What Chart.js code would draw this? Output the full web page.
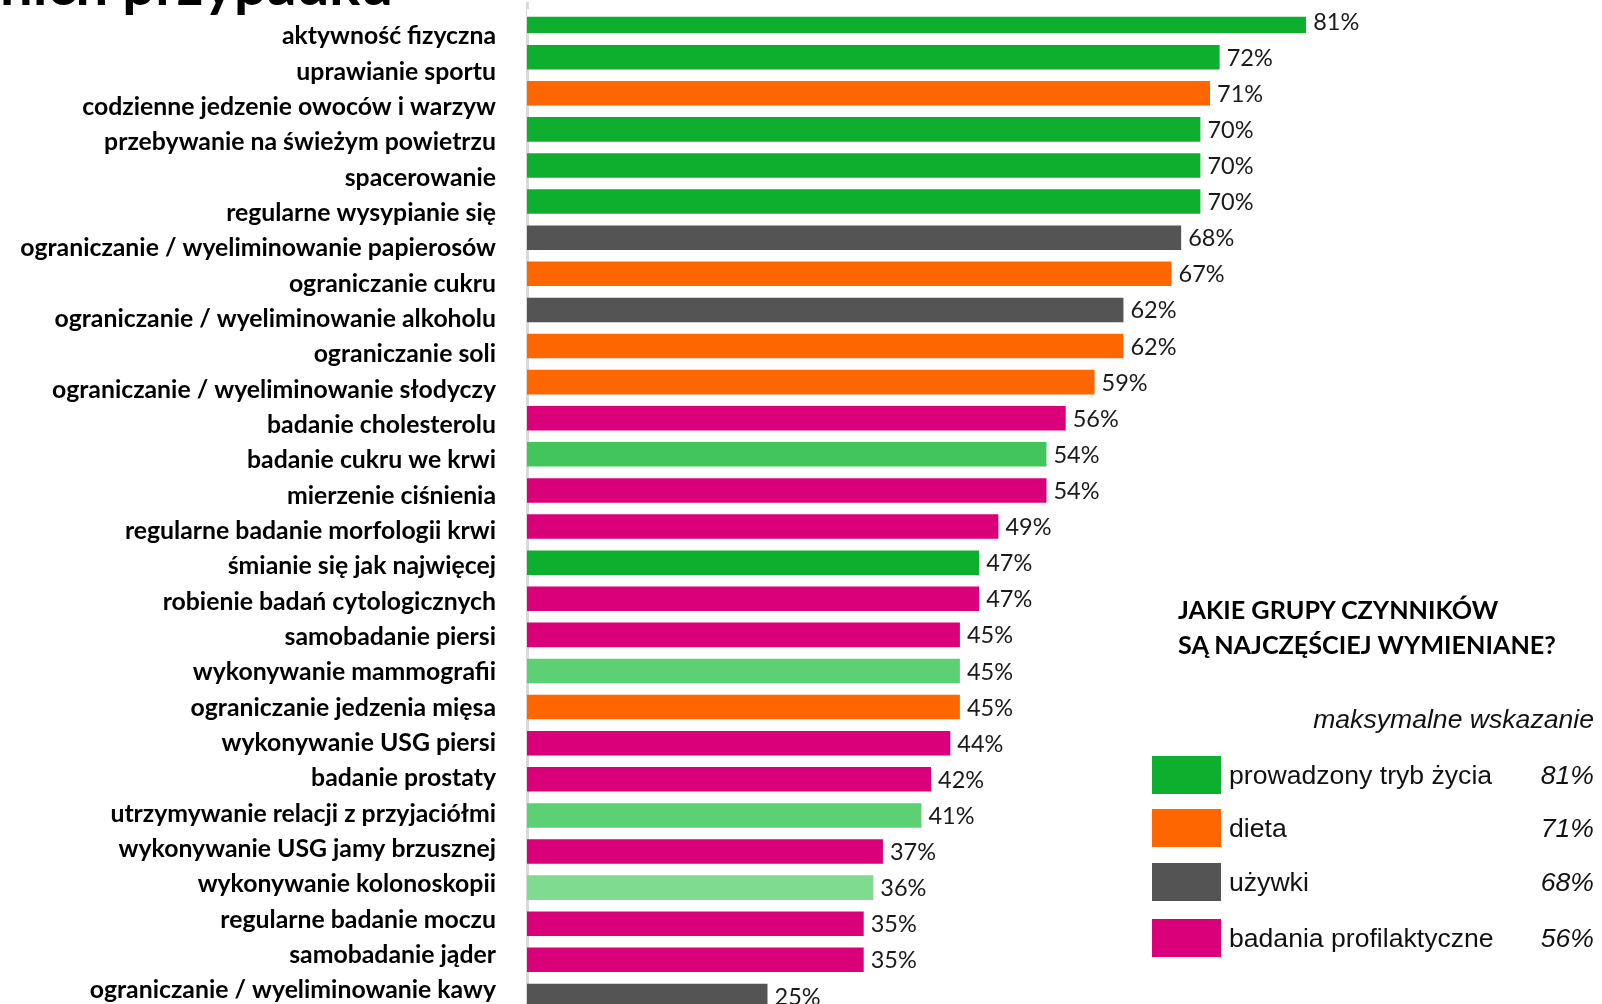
<!DOCTYPE html>
<html lang="pl">
<head>
<meta charset="utf-8">
<title>Czynniki</title>
<script src="https://cdn.jsdelivr.net/npm/chart.js@4.4.1/dist/chart.umd.min.js"></script>
<style>
  html, body { margin: 0; padding: 0; background: #fff; overflow: hidden; }
  body { width: 1602px; height: 1004px; position: relative; }
  #chartCzynniki { position: absolute; left: 0; top: 0; }
  .abs { position: absolute; white-space: nowrap; }
  #topTitle { left: 0; top: -51px; font: 700 58px Lato, sans-serif; line-height: 67px; color: #000; }
  #legTitle { left: 1178px; top: 592px; font: 700 25.2px Lato, sans-serif; line-height: 35px; color: #000; }
  #legSub { right: 8px; top: 703px; font: italic 26.6px "Liberation Sans", Arial, sans-serif; line-height: 32px; color: #111; }
  .sw { position: absolute; left: 1152px; width: 69px; height: 38px; }
  .lname { position: absolute; left: 1229px; font: 26.6px "Liberation Sans", Arial, sans-serif; line-height: 32px; color: #111; }
  .lmax { position: absolute; right: 8px; font: italic 26.6px "Liberation Sans", Arial, sans-serif; line-height: 32px; color: #111; }
</style>
</head>
<body>
<div id="topTitle" class="abs">nich przypadku</div>
<canvas id="chartCzynniki" width="1602" height="1020"></canvas>
<div id="legTitle" class="abs">JAKIE GRUPY CZYNNIKÓW<br>SĄ NAJCZĘŚCIEJ WYMIENIANE?</div>
<div id="legSub" class="abs">maksymalne wskazanie</div>
<div id="legend"></div>
<script>
const kategorie = [
  "aktywność fizyczna",
  "uprawianie sportu",
  "codzienne jedzenie owoców i warzyw",
  "przebywanie na świeżym powietrzu",
  "spacerowanie",
  "regularne wysypianie się",
  "ograniczanie / wyeliminowanie papierosów",
  "ograniczanie cukru",
  "ograniczanie / wyeliminowanie alkoholu",
  "ograniczanie soli",
  "ograniczanie / wyeliminowanie słodyczy",
  "badanie cholesterolu",
  "badanie cukru we krwi",
  "mierzenie ciśnienia",
  "regularne badanie morfologii krwi",
  "śmianie się jak najwięcej",
  "robienie badań cytologicznych",
  "samobadanie piersi",
  "wykonywanie mammografii",
  "ograniczanie jedzenia mięsa",
  "wykonywanie USG piersi",
  "badanie prostaty",
  "utrzymywanie relacji z przyjaciółmi",
  "wykonywanie USG jamy brzusznej",
  "wykonywanie kolonoskopii",
  "regularne badanie moczu",
  "samobadanie jąder",
  "ograniczanie / wyeliminowanie kawy"
];

const wartosci = [81, 72, 71, 70, 70, 70, 68, 67, 62, 62, 59, 56, 54, 54, 49, 47, 47, 45, 45, 45, 44, 42, 41, 37, 36, 35, 35, 25];

const grupy = [
  "zycie", "zycie", "dieta", "zycie", "zycie", "zycie", "uzywki", "dieta", "uzywki", "dieta",
  "dieta", "badania", "zycie2", "badania", "badania", "zycie", "badania", "badania", "zycie3", "dieta",
  "badania", "badania", "zycie3", "badania", "zycie4", "badania", "badania", "uzywki"
];

const legendaNazwy = ["prowadzony tryb życia", "dieta", "używki", "badania profilaktyczne"];
const legendaGrupy = ["zycie", "dieta", "uzywki", "badania"];
const legendaMax = [81, 71, 68, 56];

const kolory = {
  zycie: "#0EAF2E",
  zycie2: "#42C65B",
  zycie3: "#5DD074",
  zycie4: "#7EDB8F",
  dieta: "#FF6600",
  uzywki: "#545454",
  badania: "#D9007A"
};

// legenda po prawej
const legendTops = [756, 809, 863, 919];
const legendDiv = document.getElementById("legend");
legendaNazwy.forEach((nazwa, i) => {
  const sw = document.createElement("div");
  sw.className = "sw";
  sw.style.top = legendTops[i] + "px";
  sw.style.background = kolory[legendaGrupy[i]];
  legendDiv.appendChild(sw);

  const txt = document.createElement("div");
  txt.className = "lname";
  txt.style.top = (legendTops[i] + 3) + "px";
  txt.innerText = nazwa;
  legendDiv.appendChild(txt);

  const mx = document.createElement("div");
  mx.className = "lmax";
  mx.style.top = (legendTops[i] + 3) + "px";
  mx.innerText = legendaMax[i] + "%";
  legendDiv.appendChild(mx);
});

// etykiety z wartościami przy słupkach
const etykietyWartosci = {
  id: "etykietyWartosci",
  afterDatasetsDraw(chart) {
    const ctx = chart.ctx;
    const meta = chart.getDatasetMeta(0);
    ctx.save();
    ctx.font = "400 23.5px Lato, sans-serif";
    ctx.fillStyle = "#1a1a1a";
    ctx.textAlign = "left";
    ctx.textBaseline = "middle";
    meta.data.forEach((bar, i) => {
      ctx.fillText(wartosci[i] + "%", bar.x + 7, bar.y + 1);
    });
    ctx.restore();
  }
};

new Chart(document.getElementById("chartCzynniki"), {
  type: "bar",
  data: {
    labels: kategorie,
    datasets: [{
      data: wartosci,
      backgroundColor: grupy.map(g => kolory[g]),
      // pierwszy słupek w oryginale jest węższy (przycięty od góry)
      borderWidth: (c) => c.dataIndex === 0 ? { top: 8, right: 0, bottom: 0, left: 0 } : 0,
      borderColor: "#fff",
      borderSkipped: false,
      barPercentage: 0.68,
      categoryPercentage: 1
    }]
  },
  options: {
    indexAxis: "y",
    responsive: false,
    animation: false,
    layout: { padding: { left: 0, right: 113, top: 3, bottom: 6 } },
    plugins: {
      legend: { display: false },
      tooltip: { enabled: false }
    },
    scales: {
      x: {
        min: 0,
        max: 100,
        display: false
      },
      // oś słupków: tylko szara linia
      y: {
        afterFit: (scale) => {
          scale.width = 0;
          scale.paddingTop = 0;
          scale.paddingBottom = 0;
        },
        grid: { display: false, drawTicks: false },
        border: { display: true, color: "#d9d9d9", width: 3 },
        ticks: { display: false }
      },
      // osobna oś na podpisy (w oryginale rozstaw podpisów jest trochę mniejszy niż słupków)
      yl: {
        type: "linear",
        position: "left",
        reverse: true,
        bounds: "data",
        min: -0.436,
        max: 27.164,
        afterBuildTicks: (scale) => {
          scale.ticks = kategorie.map((k, i) => ({ value: i }));
        },
        afterFit: (scale) => {
          scale.width = 527;
          scale.paddingTop = 0;
          scale.paddingBottom = 0;
        },
        grid: { display: false, drawTicks: false },
        border: { display: false },
        ticks: {
          autoSkip: false,
          padding: 31,
          color: "#000",
          font: { family: "Lato", weight: "bold", size: 24.8 },
          callback: (v) => kategorie[v]
        }
      }
    }
  },
  plugins: [etykietyWartosci]
});
</script>
</body>
</html>
